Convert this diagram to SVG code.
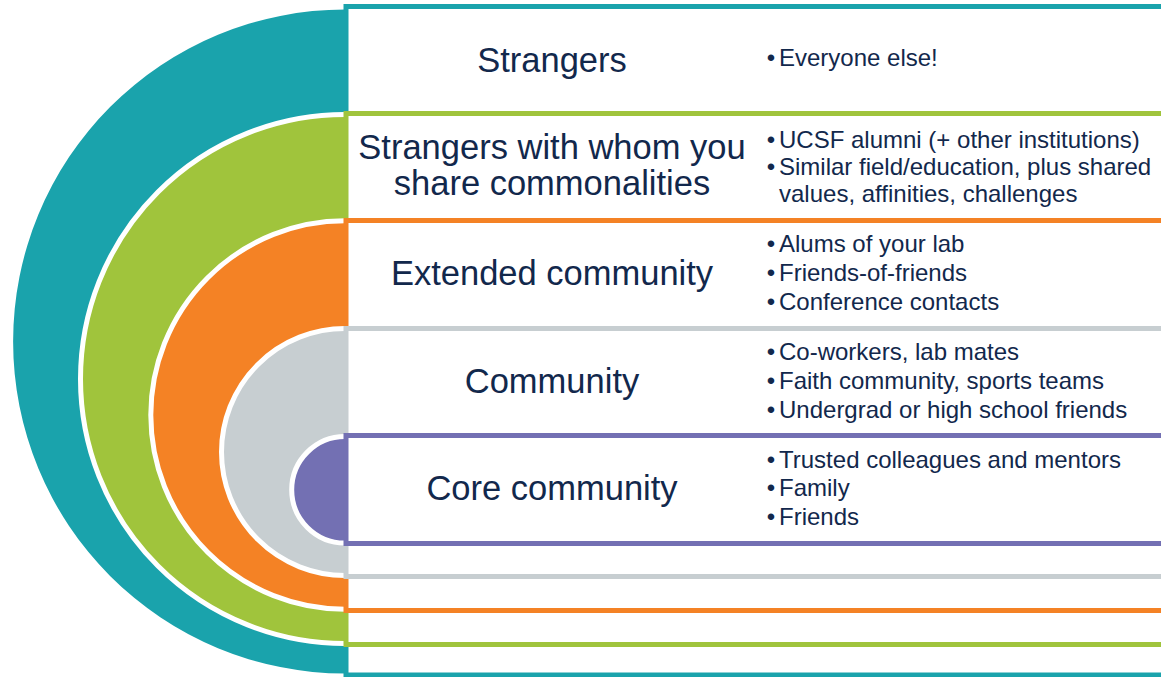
<svg xmlns="http://www.w3.org/2000/svg" width="1161" height="677" viewBox="0 0 1161 677">
<style>
.band{fill:#ffffff;stroke-width:5}
.arc{stroke:#ffffff;stroke-width:5}
.title{font-family:"Liberation Sans",Arial,sans-serif;font-size:34.5px;fill:#12284C;text-anchor:middle}
.item{font-family:"Liberation Sans",Arial,sans-serif;font-size:24px;fill:#12284C}
.dot{font-family:"Liberation Sans",Arial,sans-serif;font-size:24px;fill:#12284C;text-anchor:middle}
</style>
<rect width="1161" height="677" fill="#ffffff"/>
<g id="strangers">
  <path d="M345,9.5 A332,332 0 0 0 345,673.5 Z" fill="#1AA3AC"/>
  <rect class="band" x="346" y="6.5" width="830" height="668.5" stroke="#1AA3AC"/>
  <text class="title" x="552" y="72">Strangers</text>
  <text class="dot" x="771" y="66">•</text>
  <text class="item" x="779" y="66">Everyone else!</text>
</g>
<g id="commonalities">
  <path class="arc" d="M345,114.5 A264.5,264.5 0 0 0 345,643.5" fill="#A0C43C"/>
  <rect class="band" x="346" y="113.5" width="830" height="531" stroke="#A0C43C"/>
  <text class="title" x="552" y="159">Strangers with whom you</text>
  <text class="title" x="552" y="195">share commonalities</text>
  <text class="dot" x="771" y="148">•</text>
  <text class="item" x="779" y="148">UCSF alumni (+ other institutions)</text>
  <text class="dot" x="771" y="175">•</text>
  <text class="item" x="779" y="175">Similar field/education, plus shared</text>
  <text class="item" x="779" y="202">values, affinities, challenges</text>
</g>
<g id="extended">
  <path class="arc" d="M345,220.8 A194.2,194.2 0 0 0 345,609.2" fill="#F48225"/>
  <rect class="band" x="346" y="220.5" width="830" height="390" stroke="#F48225"/>
  <text class="title" x="552" y="285">Extended community</text>
  <text class="dot" x="771" y="252">•</text>
  <text class="item" x="779" y="252">Alums of your lab</text>
  <text class="dot" x="771" y="281">•</text>
  <text class="item" x="779" y="281">Friends-of-friends</text>
  <text class="dot" x="771" y="310">•</text>
  <text class="item" x="779" y="310">Conference contacts</text>
</g>
<g id="community">
  <path class="arc" d="M345,328.5 A123.5,123.5 0 0 0 345,575.5" fill="#C7CED1"/>
  <rect class="band" x="346" y="328.5" width="830" height="248" stroke="#C7CED1"/>
  <text class="title" x="552" y="393">Community</text>
  <text class="dot" x="771" y="360">•</text>
  <text class="item" x="779" y="360">Co-workers, lab mates</text>
  <text class="dot" x="771" y="389">•</text>
  <text class="item" x="779" y="389">Faith community, sports teams</text>
  <text class="dot" x="771" y="418">•</text>
  <text class="item" x="779" y="418">Undergrad or high school friends</text>
</g>
<g id="core">
  <path class="arc" d="M345,436.5 A53.3,53.3 0 0 0 345,543.1" fill="#7370B3"/>
  <rect class="band" x="346" y="435.5" width="830" height="108" stroke="#7370B3"/>
  <text class="title" x="552" y="500">Core community</text>
  <text class="dot" x="771" y="468">•</text>
  <text class="item" x="779" y="468">Trusted colleagues and mentors</text>
  <text class="dot" x="771" y="496">•</text>
  <text class="item" x="779" y="496">Family</text>
  <text class="dot" x="771" y="525">•</text>
  <text class="item" x="779" y="525">Friends</text>
</g>
<g id="connectors"></g>
</svg>
